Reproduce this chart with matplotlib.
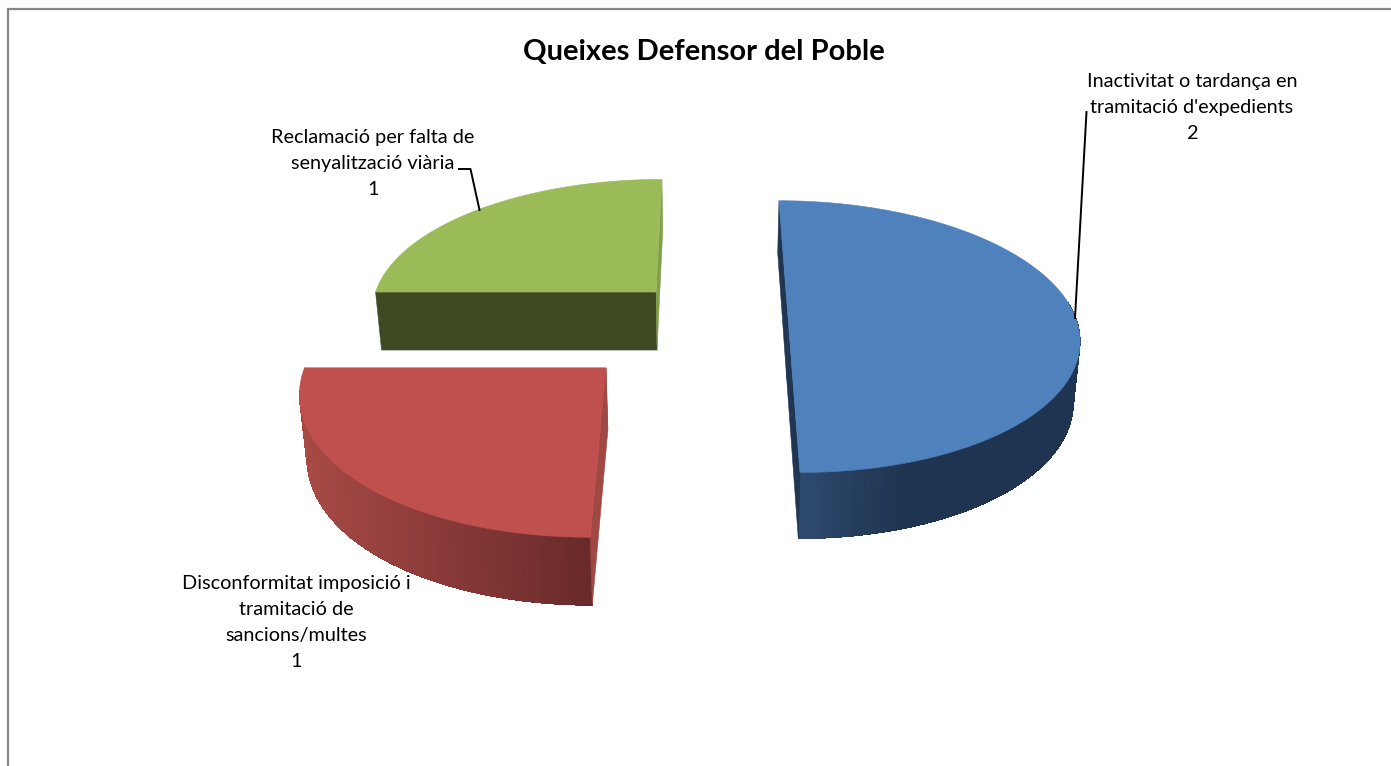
#!/usr/bin/env python3
"""Exploded 3D-look pie of complaints, projected by hand onto a flat axes."""

import numpy as np
import matplotlib
matplotlib.use("Agg")
import matplotlib.pyplot as plt
from matplotlib.collections import PolyCollection
from matplotlib.colors import to_rgb
from matplotlib.patches import Polygon

# Data
categories = [
    "Inactivitat o tardança en\ntramitació d'expedients",
    "Disconformitat imposició i\ntramitació de\nsancions/multes",
    "Reclamació per falta de\nsenyalització viària",
]
values = [2, 1, 1]

title = "Queixes Defensor del Poble"

# Slice colours: top face, cut face, wall gradient start and end
top_colors = ["#4f81bd", "#c0504d", "#9bbb59"]
cut_colors = ["#1f3550", "#a04844", "#7f9f4b"]
front_colors = [None, None, "#3f4a22"]
wall_colors = [("#2e4b70", "#1f3450"), ("#a84a46", "#692a2a"), ("#7f9f4b", "#7f9f4b")]

# Exploded slice centres in projection space
center_x = [0.0772, -0.0938, -0.0513]
center_q = [9.633e-4, 9.2e-4, 9.891e-4]

# Perspective camera
VANISH_X, VANISH_Y = 708.0, -719.0
RADIUS_X = 0.2775
RADIUS_Q = 1.24e-4

label_x = [1192, 296, 373]
label_y = [81.5, 583.5, 137.5]
LINE_STEP = 26


def project(theta, cx, cq):
    """Top-face pixel positions for angles theta (radians, 0 = right, pi/2 = front)."""
    s = 1.0 / (cq - RADIUS_Q * np.sin(theta))
    x = VANISH_X + (cx + RADIUS_X * np.cos(theta)) * s
    y = VANISH_Y + s
    return np.column_stack([x, y])


def drop(points):
    """Same points on the lower face of the pie."""
    s = points[:, 1] - VANISH_Y - 920.0
    dy = 52.0 + 0.0728 * s - 7.53e-5 * s ** 2
    dx = (VANISH_X - points[:, 0]) * 0.018
    return points + np.column_stack([dx, dy])


def draw_slice(ax, start, end, cx, cq, idx):
    theta = np.linspace(start, end, 160)
    arc = project(theta, cx, cq)
    low = drop(arc)

    # the slice apex is the disc centre, with no radius added
    apex = np.array([[VANISH_X + cx / cq, VANISH_Y + 1.0 / cq]])
    apex_low = drop(apex)

    # outer wall, only the front half of the rim shows
    front = (theta > np.radians(-8)) & (theta < np.radians(172))
    quads = []
    for i in np.where(front[:-1] & front[1:])[0]:
        quads.append([arc[i], arc[i + 1], low[i + 1], low[i]])
    if quads:
        c0 = np.array(to_rgb(wall_colors[idx][0]))
        c1 = np.array(to_rgb(wall_colors[idx][1]))
        xs = np.array([q[0][0] for q in quads])
        if idx == 0:
            # lighter only next to the front corner
            t = np.clip((xs - arc[-1, 0]) / 105, 0, 1)
        else:
            t = (xs - xs.min()) / (xs.max() - xs.min())
        cols = c0 + np.outer(t, c1 - c0)

        # solid backing so the strips leave no seams
        outline = np.vstack([arc[front], low[front][::-1]])
        ax.add_patch(Polygon(outline, closed=True, fc=cols.mean(axis=0), ec='none', zorder=2))
        ax.add_collection(PolyCollection(quads, facecolors=cols, edgecolors='none',
                                         antialiased=False, zorder=2.5))

    # cut faces
    for pt, pt_low, which in [(arc[0], low[0], "start"), (arc[-1], low[-1], "end")]:
        face = np.vstack([apex, pt[None], pt_low[None], apex_low])
        color = cut_colors[idx]
        if idx == 2 and which == "start":
            color = front_colors[idx]
        ax.add_patch(Polygon(face, closed=True, fc=color, ec=color, lw=0.4, zorder=3))

    # top face
    top = np.vstack([apex, arc])
    ax.add_patch(Polygon(top, closed=True, fc=top_colors[idx], ec=top_colors[idx],
                         lw=0.4, zorder=4))


def main():
    plt.rcParams['font.family'] = ['Lato', 'DejaVu Sans']

    fig = plt.figure(figsize=(13.91, 7.66), dpi=100)
    ax = fig.add_axes([0, 0, 1, 1])
    ax.set_xlim(0, 1391)
    ax.set_ylim(766, 0)
    ax.axis('off')

    # chart frame, runs off the right and bottom edges
    ax.plot([8.0, 8.0, 1391], [766, 8.5, 8.5], color='#868686', lw=1.6,
            solid_joinstyle='miter', zorder=1)

    # slices clockwise from the back of the pie
    fractions = np.array(values, dtype=float) / sum(values)
    edges = -np.pi / 2 + 2 * np.pi * np.concatenate([[0], np.cumsum(fractions)])
    for i in range(len(values)):
        draw_slice(ax, edges[i], edges[i + 1], center_x[i], center_q[i], i)

    # leader lines
    ax.plot([1086.5, 1075], [112, 318], color='black', lw=1.4, zorder=5)
    ax.plot([459, 470.5, 479.5], [169, 169, 210], color='black', lw=1.4, zorder=5)

    ax.text(704, 52, title, ha='center', va='center', fontsize=21,
            fontweight='bold', color='black', zorder=6)

    for cat, val, x, y in zip(categories, values, label_x, label_y):
        lines = cat.split("\n") + [str(val)]
        for j, line in enumerate(lines):
            ax.text(x, y + j * LINE_STEP, line, ha='center', va='center',
                    fontsize=14.3, color='black', zorder=6)

    fig.savefig('out.png', dpi=100, facecolor='white')


if __name__ == "__main__":
    main()
